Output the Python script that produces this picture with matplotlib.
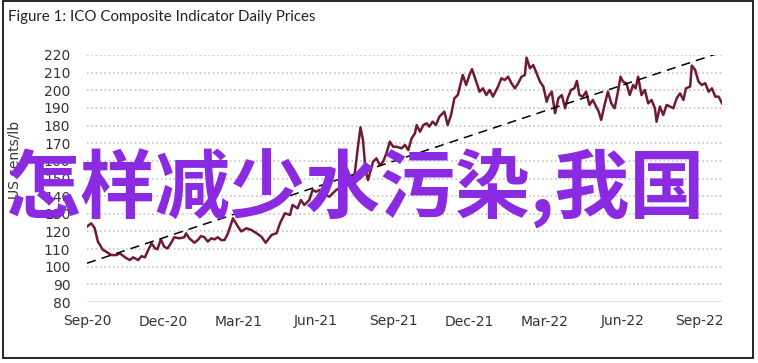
import matplotlib as mpl
mpl.use('agg')

import matplotlib.pyplot as plt
import matplotlib.dates as mdates
import numpy as np
import datetime as dt
from matplotlib.patches import Rectangle

# ICO composite indicator (days counted from start date)
start = dt.date(2020, 9, 1)
days = [0, 5, 9, 13, 19, 23, 29, 35, 39, 47, 51, 55, 61, 65, 69, 73, 77, 81, 84, 88,
        92, 96, 100, 104, 110, 116, 118, 122, 128, 132, 136, 140, 144, 148, 152, 156, 160, 164, 168, 174,
        180, 184, 190, 196, 202, 208, 213, 220, 226, 230, 236, 242, 245, 251, 255, 259, 265, 269, 273, 277,
        283, 289, 297, 305, 311, 319, 323, 326, 329, 332, 335, 341, 345, 349, 353, 357, 361, 365, 369, 375,
        379, 383, 387, 391, 393, 397, 401, 405, 408, 412, 416, 420, 426, 430, 434, 438, 442, 444, 448, 452,
        456, 459, 464, 468, 472, 476, 480, 484, 490, 494, 498, 502, 506, 510, 514, 518, 522, 524, 528, 532,
        536, 540, 544, 548, 550, 554, 558, 562, 566, 570, 573, 577, 581, 584, 587, 591, 595, 599, 603, 607,
        610, 613, 617, 621, 625, 629, 633, 636, 639, 643, 647, 651, 654, 657, 661, 665, 669, 673, 677, 679,
        683, 687, 691, 695, 699, 703, 707, 711, 714, 719, 721, 725, 729, 733, 737, 741, 745, 749, 753, 757]
prices = [122.7, 124.6, 122.0, 114.2, 109.5, 108.5, 106.6, 106.6, 107.6, 104.8, 103.8, 105.3, 103.8, 106.0, 105.3, 109.5, 113.3, 110.4, 109.9, 115.5,
          111.3, 110.4, 113.3, 116.7, 116.1, 116.7, 118.9, 116.1, 113.6, 115.1, 117.4, 116.7, 114.2, 116.1, 115.5, 116.7, 115.1, 115.1, 118.9, 127.4,
          122.7, 120.0, 121.8, 120.8, 119.0, 117.0, 113.6, 118.0, 119.0, 124.6, 130.3, 129.3, 135.0, 133.1, 137.8, 135.0, 137.8, 143.5, 142.5, 143.5,
          141.0, 139.7, 143.5, 145.4, 149.1, 152.0, 168.0, 179.0, 171.8, 154.8, 149.1, 159.5, 161.4, 157.6, 159.5, 164.3, 170.9, 168.0, 168.0, 167.1,
          169.0, 166.1, 172.8, 175.6, 180.3, 176.5, 180.3, 181.3, 179.4, 182.2, 180.3, 185.0, 187.9, 180.3, 186.0, 195.5, 197.3, 201.1, 208.7, 203.0,
          208.7, 212.0, 204.9, 199.2, 201.1, 197.3, 200.2, 196.4, 202.1, 206.8, 205.8, 207.7, 204.0, 201.1, 204.0, 207.7, 208.7, 218.5, 212.5, 214.3,
          209.6, 204.9, 202.1, 193.5, 196.4, 199.2, 187.0, 195.5, 197.3, 189.8, 195.5, 200.2, 201.1, 205.3, 197.3, 196.4, 199.2, 191.7, 194.5, 190.8,
          187.9, 183.2, 191.7, 199.2, 192.6, 189.8, 199.2, 207.7, 204.9, 204.0, 197.3, 203.0, 201.1, 207.7, 197.3, 200.2, 192.6, 194.5, 189.8, 182.2,
          190.8, 186.0, 191.7, 190.8, 189.8, 195.5, 198.3, 194.5, 201.1, 202.1, 214.0, 211.5, 204.9, 203.0, 204.0, 199.2, 201.1, 196.4, 196.4, 192.6]

# linear trend, start and end values
trend_days = [0, 757]
trend_vals = [102.0, 221.7]

xticks = ['2020-09-01', '2020-12-01', '2021-03-01', '2021-06-01', '2021-09-01',
          '2021-12-01', '2022-03-01', '2022-06-01', '2022-09-01']
yticks = list(range(80, 230, 10))

narrow = ['Liberation Sans Narrow', 'DejaVu Sans']

dates = [start + dt.timedelta(days=d) for d in days]
tdates = [start + dt.timedelta(days=d) for d in trend_days]

fig = plt.figure(figsize=(7.58, 3.63), dpi=100)
ax = fig.add_axes([87 / 758, 1 - 302 / 363, (722 - 87) / 758, (302 - 55) / 363])

for y in yticks[1:]:
    ax.axhline(y, color='#c6c6c6', lw=1.2, ls=(0, (1, 1.6)), zorder=1)
ax.axhline(80, color='#d9d9d9', lw=2, zorder=1)

ax.plot(dates, prices, color='#701a33', lw=1.8, zorder=3)
ax.plot(tdates, trend_vals, color='black', lw=1.1, ls=(0, (6, 4)), zorder=4)

ax.set_ylim(80, 220)
ax.set_xlim(start, dates[-1])
ax.set_yticks(yticks)
ax.set_xticks([dt.date.fromisoformat(s) for s in xticks])
ax.xaxis.set_major_formatter(mdates.DateFormatter('%b-%y'))
ax.tick_params(length=0, labelsize=10, colors='#333333')
ax.tick_params(axis='y', pad=12)
ax.tick_params(axis='x', pad=9)
for lab in ax.get_xticklabels() + ax.get_yticklabels():
    lab.set_family(narrow)
for s in ax.spines.values():
    s.set_visible(False)
ax.patch.set_alpha(0)

fig.text(15 / 758, 1 - 160 / 363, 'US cents/lb', rotation=90, ha='center', va='center',
         fontsize=10, color='#333333', family=narrow)
fig.text(8 / 758, 1 - 17 / 363, 'Figure 1: ICO Composite Indicator Daily Prices',
         ha='left', va='center', fontsize=10.8, color='#222222', family=['Lato', 'DejaVu Sans'])

# watermark text on top of the chart
fig.text(356 / 758, 1 - 189 / 363, '怎样减少水污染,我国', ha='center', va='center',
         fontsize=54, fontweight='bold', color='#8a2be2',
         family=['Noto Sans CJK SC', 'DejaVu Sans'], zorder=10)

fig.patches.append(Rectangle((2.5 / 758, 1 - 358 / 363), 750.5 / 758, 357 / 363,
                             transform=fig.transFigure, fill=False, ec='black', lw=1.2))

fig.savefig('out.png', dpi=100)
